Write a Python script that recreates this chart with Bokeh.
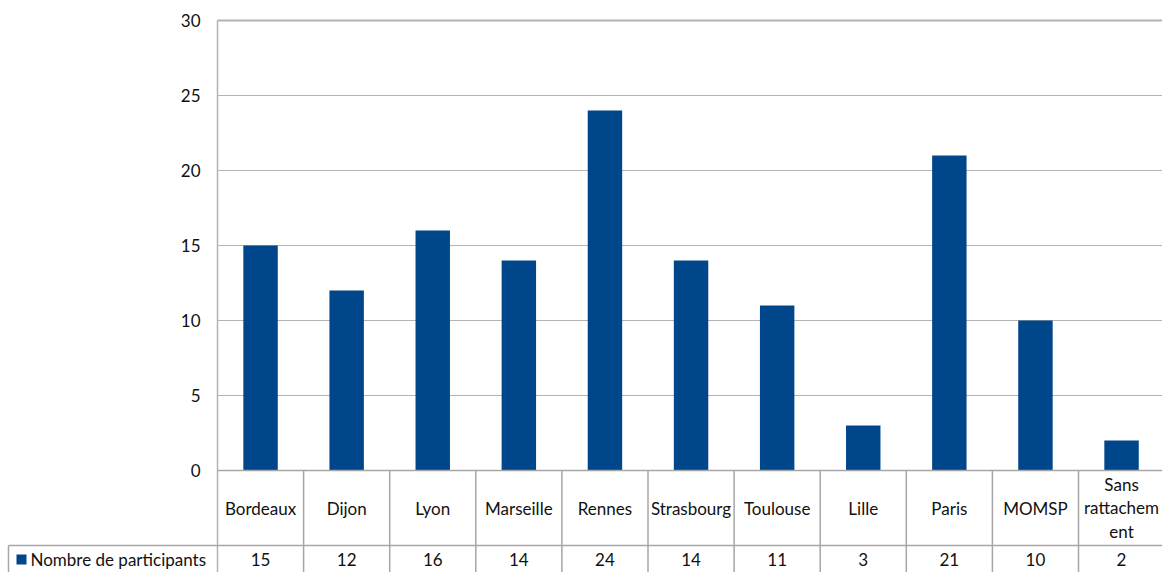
from bokeh.plotting import figure
from bokeh.models import Range1d, ColumnDataSource
from bokeh.core.properties import value
from bokeh.embed import file_html
from bokeh.resources import INLINE

# Participants per site
categories = ["Bordeaux", "Dijon", "Lyon", "Marseille", "Rennes", "Strasbourg",
              "Toulouse", "Lille", "Paris", "MOMSP", "Sans\nrattachem\nent"]
participants = [15, 12, 16, 14, 24, 14, 11, 3, 21, 10, 2]
y_ticks = [0, 5, 10, 15, 20, 25, 30]
series_name = "Nombre de participants"

BAR = "#00468b"
GRID = "#b3b3b3"
TABLE = "#a6a6a6"
TEXT = "#111111"
FONT = "Lato"
FS = "17px"

W, H = 1162, 572
n = len(categories)
xs = list(range(n))

# Data window: columns are one unit wide, the chart body spans [-0.5, n-0.5]
px_x = 86.1
px_y = 15.0
x0 = -0.5 - 217 / px_x
y1 = max(y_ticks) + 20 / px_y
y0 = y1 - H / px_y

p = figure(width=W, height=H, x_range=Range1d(x0, x0 + W / px_x),
           y_range=Range1d(y0, y1), min_border=0, toolbar_location=None,
           output_backend="svg", x_axis_location=None, y_axis_location=None,
           outline_line_color=None, background_fill_color="white")
p.grid.visible = False

left = -0.5
right = n - 0.5
row1 = -5.0            # bottom of the category row
cat_y = row1 / 2       # middle of the category row
val_y = row1 - 0.93    # middle of the value row
legend_left = left - 209 / px_x

# horizontal grid lines
inner = [t for t in y_ticks if 0 < t < max(y_ticks)]
p.segment(x0=[left] * len(inner), y0=inner, x1=[right] * len(inner), y1=inner,
          line_color=GRID, line_width=1)
p.segment(x0=[left], y0=[max(y_ticks)], x1=[right], y1=[max(y_ticks)],
          line_color=GRID, line_width=2)

# bars
src = ColumnDataSource(dict(x=xs, top=participants, cat=categories,
                            lab=[str(v) for v in participants]))
p.vbar(x="x", top="top", bottom=0, width=0.4, source=src,
       fill_color=BAR, line_color=None)

# chart body left border, continuing through the table
p.segment(x0=[left], y0=[max(y_ticks)], x1=[left], y1=[y0],
          line_color=GRID, line_width=1.5)

# data table lines
bounds = [i + 0.5 for i in xs]
p.segment(x0=bounds, y0=[0] * n, x1=bounds, y1=[y0] * n,
          line_color=TABLE, line_width=1.5)
p.segment(x0=[left], y0=[0], x1=[right], y1=[0], line_color=TABLE, line_width=1.5)
p.segment(x0=[legend_left], y0=[row1], x1=[right], y1=[row1],
          line_color=TABLE, line_width=1.5)
p.segment(x0=[legend_left], y0=[row1], x1=[legend_left], y1=[y0],
          line_color=TABLE, line_width=1.5)

# y tick labels
p.text(x=[left - 17 / px_x] * len(y_ticks), y=y_ticks, text=[str(t) for t in y_ticks],
       text_align="right", text_baseline="middle", text_font=value(FONT),
       text_font_size=FS, text_color=TEXT)

# category labels and values
p.text(x="x", y=cat_y, text="cat", source=src, text_align="center",
       text_baseline="middle", text_font=value(FONT), text_font_size=FS,
       text_color=TEXT, text_line_height=1.13)
p.text(x="x", y=val_y, text="lab", source=src, text_align="center",
       text_baseline="middle", text_font=value(FONT), text_font_size=FS,
       text_color=TEXT)

# legend key and series name
p.scatter(x=[legend_left + 13 / px_x], y=[val_y], marker="square", size=10,
          fill_color=BAR, line_color=None)
p.text(x=[legend_left + 22 / px_x], y=[val_y], text=[series_name],
       text_align="left", text_baseline="middle", text_font=value(FONT),
       text_font_size=FS, text_color=TEXT)

open("out.html", "w").write(file_html(p, INLINE))
